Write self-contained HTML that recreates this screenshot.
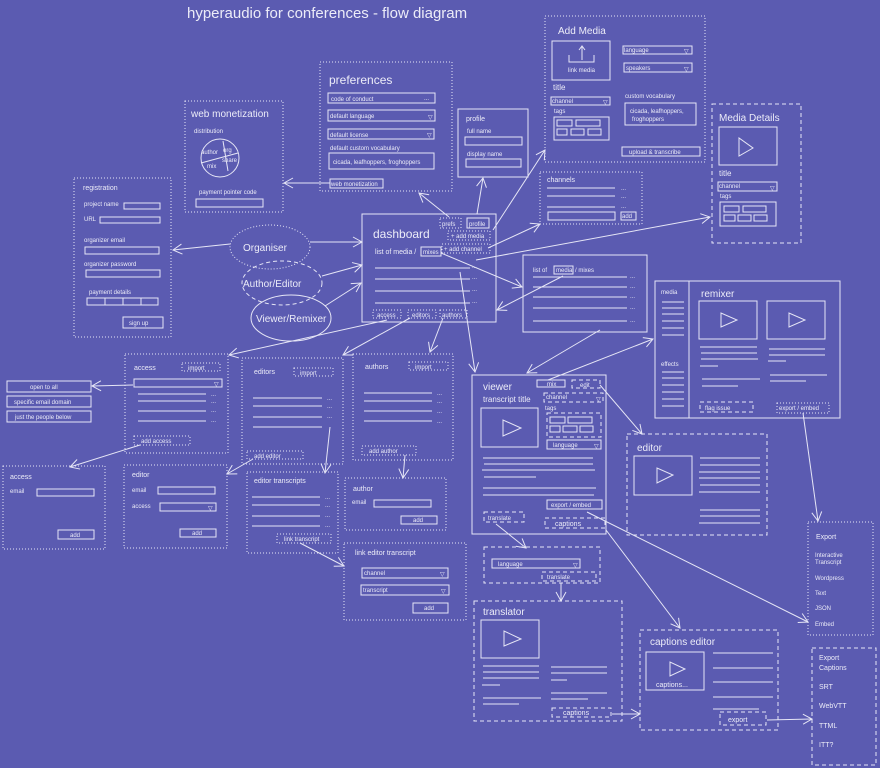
<!DOCTYPE html>
<html><head><meta charset="utf-8"><style>
html,body{margin:0;padding:0;background:#5b5bb1;}
svg{display:block}
text{font-family:"Liberation Sans",sans-serif;fill:#ececf8}
.s{fill:none;stroke:#e6e6f6;stroke-width:1}
.dt{fill:none;stroke:#e6e6f6;stroke-width:1;stroke-dasharray:1 2}
.ds{fill:none;stroke:#e6e6f6;stroke-width:1;stroke-dasharray:4 3}
.a{fill:none;stroke:#e6e6f6;stroke-width:1;marker-end:url(#m)}
.t6{font-size:6px}.t7{font-size:7px}.t8{font-size:8px}.t10{font-size:10px}.t12{font-size:12px}
</style></head><body>
<svg width="880" height="768" viewBox="0 0 880 768" xmlns="http://www.w3.org/2000/svg">
<defs><marker id="m" markerWidth="12" markerHeight="12" refX="10" refY="6" orient="auto" markerUnits="userSpaceOnUse"><path d="M1,1 L10,6 L1,11" fill="none" stroke="#e6e6f6" stroke-width="1"/></marker></defs>
<rect width="880" height="768" fill="#5b5bb1"/>
<text x="187" y="18" font-size="15">hyperaudio for conferences - flow diagram</text>

<!-- preferences -->
<rect class="dt" x="320" y="62" width="132" height="129"/>
<text x="329" y="84" class="t12">preferences</text>
<rect class="s" x="328" y="93" width="107" height="10"/><text x="331" y="101" class="t6">code of conduct</text><text x="424" y="100" class="t6">...</text>
<rect class="s" x="328" y="110" width="107" height="11"/><text x="330" y="118" class="t6">default language</text><text x="428" y="119" class="t6">▽</text>
<rect class="s" x="328" y="129" width="106" height="10"/><text x="330" y="137" class="t6">default license</text><text x="427" y="137" class="t6">▽</text>
<text x="330" y="150" class="t6">default custom vocabulary</text>
<rect class="s" x="329" y="153" width="105" height="16"/><text x="333" y="164" class="t6">cicada, leafhoppers, froghoppers</text>
<rect class="s" x="330" y="179" width="53" height="9"/><text x="331" y="186" class="t6">web monetization</text>

<!-- web monetization -->
<rect class="dt" x="185" y="101" width="98" height="111"/>
<text x="191" y="117" class="t10">web monetization</text>
<text x="194" y="133" class="t6">distribution</text>
<circle class="s" cx="220" cy="158" r="19"/>
<path class="s" d="M223,141 L228,171 M201,163 L238,153"/>
<text x="201" y="154" class="t6">author</text><text x="223" y="152" class="t6">org</text><text x="222" y="162" class="t6">share</text><text x="207" y="168" class="t6">mix</text>
<text x="199" y="194" class="t6">payment pointer code</text>
<rect class="s" x="196" y="199" width="67" height="8"/>

<!-- registration -->
<rect class="dt" x="74" y="178" width="97" height="159"/>
<text x="83" y="190" class="t7">registration</text>
<text x="84" y="206" class="t6">project name</text><rect class="s" x="124" y="203" width="36" height="6"/>
<text x="84" y="221" class="t6">URL</text><rect class="s" x="100" y="217" width="60" height="6"/>
<text x="84" y="242" class="t6">organizer email</text><rect class="s" x="85" y="247" width="74" height="7"/>
<text x="84" y="266" class="t6">organizer password</text><rect class="s" x="86" y="270" width="74" height="7"/>
<text x="89" y="294" class="t6">payment details</text>
<rect class="s" x="87" y="298" width="18" height="7"/><rect class="s" x="105" y="298" width="18" height="7"/><rect class="s" x="123" y="298" width="18" height="7"/><rect class="s" x="141" y="298" width="17" height="7"/>
<rect class="s" x="123" y="317" width="40" height="11"/><text x="129" y="325" class="t6">sign up</text>

<!-- actors -->
<ellipse class="dt" cx="270" cy="247" rx="40" ry="22"/><text x="243" y="251" class="t10">Organiser</text>
<ellipse class="ds" cx="282" cy="283" rx="40" ry="22"/><text x="243" y="287" class="t10">Author/Editor</text>
<ellipse class="s" cx="291" cy="318" rx="40" ry="23"/><text x="256" y="322" class="t10">Viewer/Remixer</text>

<!-- dashboard -->
<rect class="s" x="362" y="214" width="134" height="108"/>
<text x="373" y="238" class="t12">dashboard</text>
<rect class="dt" x="440" y="218" width="21" height="10"/><text x="442" y="226" class="t6">prefs</text>
<rect class="s" x="467" y="218" width="22" height="10"/><text x="469" y="226" class="t6">profile</text>
<rect class="dt" x="448" y="231" width="42" height="9"/><text x="451" y="238" class="t6">+ add media</text>
<rect class="dt" x="442" y="244" width="48" height="9"/><text x="444" y="251" class="t6">+ add channel</text>
<text x="375" y="254" class="t7">list of media /</text><rect class="s" x="421" y="247" width="20" height="9"/><text x="423" y="254" class="t6">mixes</text>
<g class="s"><path d="M375,268H470M375,279H470M375,291H470M375,303H470"/></g>
<text x="472" y="268" class="t6">...</text><text x="472" y="279" class="t6">...</text><text x="472" y="291" class="t6">...</text><text x="472" y="303" class="t6">...</text>
<rect class="dt" x="373" y="310" width="28" height="8"/><text x="377" y="317" class="t6">access</text>
<rect class="dt" x="408" y="310" width="28" height="8"/><text x="412" y="317" class="t6">editors</text>
<rect class="dt" x="440" y="310" width="27" height="8"/><text x="442" y="317" class="t6">authors</text>

<!-- profile -->
<rect class="s" x="458" y="109" width="70" height="68"/>
<text x="466" y="121" class="t7">profile</text>
<text x="467" y="133" class="t6">full name</text><rect class="s" x="465" y="137" width="57" height="8"/>
<text x="467" y="156" class="t6">display name</text><rect class="s" x="466" y="159" width="55" height="8"/>

<!-- add media -->
<rect class="dt" x="545" y="16" width="160" height="146"/>
<text x="558" y="34" class="t10">Add Media</text>
<rect class="s" x="552" y="41" width="58" height="39"/>
<path class="s" d="M569,55V62H594V55M582,60V47M579,50L582,46L585,50"/>
<text x="568" y="72" class="t6">link media</text>
<text x="553" y="90" class="t8">title</text>
<rect class="s" x="551" y="97" width="59" height="8"/><text x="552" y="103" class="t6">channel</text><text x="603" y="104" class="t6">▽</text>
<text x="554" y="113" class="t6">tags</text>
<rect class="s" x="554" y="117" width="55" height="23"/>
<rect class="s" x="557" y="120" width="15" height="6"/><rect class="s" x="576" y="120" width="24" height="6"/>
<rect class="s" x="557" y="129" width="10" height="6"/><rect class="s" x="571" y="129" width="13" height="6"/><rect class="s" x="588" y="129" width="13" height="6"/>
<rect class="s" x="623" y="46" width="69" height="8"/><text x="624" y="52" class="t6">language</text><text x="684" y="53" class="t6">▽</text>
<rect class="s" x="624" y="63" width="68" height="9"/><text x="626" y="70" class="t6">speakers</text><text x="684" y="71" class="t6">▽</text>
<text x="625" y="98" class="t6">custom vocabulary</text>
<rect class="s" x="625" y="103" width="71" height="22"/><text x="630" y="113" class="t6">cicada, leafhoppers,</text><text x="632" y="121" class="t6">froghoppers</text>
<rect class="s" x="622" y="147" width="78" height="9"/><text x="629" y="154" class="t6">upload &amp; transcribe</text>

<!-- channels -->
<rect class="dt" x="540" y="172" width="102" height="52"/>
<text x="547" y="182" class="t7">channels</text>
<path class="s" d="M547,188H615M547,196H615M547,207H615"/>
<text x="621" y="190" class="t6">...</text><text x="621" y="198" class="t6">...</text><text x="621" y="208" class="t6">...</text>
<rect class="s" x="548" y="212" width="67" height="8"/><rect class="s" x="621" y="212" width="15" height="8"/><text x="622" y="218" class="t6">add</text>

<!-- media details -->
<rect class="ds" x="712" y="104" width="89" height="139"/>
<text x="719" y="121" class="t10">Media Details</text>
<rect class="s" x="719" y="127" width="58" height="38"/><path class="s" d="M739,138V156L753,148Z"/>
<text x="719" y="176" class="t8">title</text>
<rect class="s" x="718" y="182" width="59" height="9"/><text x="719" y="188" class="t6">channel</text><text x="770" y="190" class="t6">▽</text>
<text x="720" y="198" class="t6">tags</text>
<rect class="s" x="720" y="202" width="56" height="24"/>
<rect class="s" x="724" y="206" width="15" height="6"/><rect class="s" x="743" y="206" width="23" height="6"/>
<rect class="s" x="724" y="215" width="11" height="6"/><rect class="s" x="738" y="215" width="13" height="6"/><rect class="s" x="754" y="215" width="13" height="6"/>

<!-- list of media -->
<rect class="s" x="523" y="255" width="124" height="77"/>
<text x="533" y="272" class="t6">list of</text><rect class="s" x="554" y="266" width="19" height="8"/><text x="556" y="272" class="t6">media</text><text x="575" y="272" class="t6">/ mixes</text>
<path class="s" d="M533,277H627M533,287H627M533,297H627M533,308H627M533,321H627"/>
<text x="630" y="278" class="t6">...</text><text x="630" y="288" class="t6">...</text><text x="630" y="298" class="t6">...</text><text x="630" y="309" class="t6">...</text><text x="630" y="322" class="t6">...</text>

<!-- remixer -->
<rect class="s" x="655" y="281" width="185" height="137"/>
<path class="s" d="M689,281V418"/>
<text x="661" y="294" class="t6">media</text>
<path class="s" d="M662,302H684M662,308H684M662,314H684M662,321H684M662,328H684M662,335H684"/>
<text x="661" y="366" class="t6">effects</text>
<path class="s" d="M662,372H684M662,378H684M662,385H684M662,392H684M662,399H684M662,406H684"/>
<text x="701" y="297" class="t10">remixer</text>
<rect class="s" x="699" y="301" width="58" height="38"/><path class="s" d="M721,313V327L737,320Z"/>
<rect class="s" x="767" y="301" width="58" height="38"/><path class="s" d="M789,313V327L805,320Z"/>
<path class="s" d="M700,347H757M701,353H757M701,359H758M700,366H718M702,379H760M702,386H738M769,349H825M769,355H825M768,361H786M770,375H827M770,381H806"/>
<rect class="ds" x="700" y="402" width="53" height="10"/><text x="705" y="410" class="t6">flag issue</text>
<rect class="dt" x="777" y="403" width="52" height="10"/><text x="779" y="410" class="t6">export / embed</text>

<!-- viewer -->
<rect class="s" x="472" y="375" width="134" height="159"/>
<text x="483" y="390" class="t10">viewer</text>
<rect class="s" x="537" y="380" width="28" height="7"/><text x="547" y="386" class="t6">mix</text>
<rect class="ds" x="572" y="380" width="28" height="8"/><text x="580" y="387" class="t6">edit</text>
<text x="483" y="402" class="t8">transcript title</text>
<rect class="ds" x="544" y="393" width="59" height="9"/><text x="546" y="399" class="t6">channel</text><text x="596" y="401" class="t6">▽</text>
<text x="545" y="410" class="t6">tags</text>
<rect class="ds" x="547" y="413" width="54" height="24"/>
<rect class="s" x="550" y="417" width="15" height="6"/><rect class="s" x="568" y="417" width="24" height="6"/>
<rect class="s" x="550" y="426" width="10" height="6"/><rect class="s" x="563" y="426" width="14" height="6"/><rect class="s" x="580" y="426" width="13" height="6"/>
<rect class="s" x="547" y="440" width="54" height="9"/><text x="553" y="447" class="t6">language</text><text x="594" y="448" class="t6">▽</text>
<rect class="s" x="481" y="408" width="57" height="39"/><path class="s" d="M503,420V436L521,428Z"/>
<path class="s" d="M483,458H593M484,464H593M482,470H595M484,477H536M483,488H596M483,495H594"/>
<rect class="s" x="547" y="500" width="55" height="9"/><text x="551" y="507" class="t6">export / embed</text>
<rect class="ds" x="484" y="512" width="40" height="10"/><text x="488" y="520" class="t6">translate</text>
<rect class="ds" x="545" y="518" width="60" height="10"/><text x="555" y="526" class="t7">captions</text>

<!-- editor -->
<rect class="ds" x="627" y="434" width="140" height="101"/>
<text x="637" y="451" class="t10">editor</text>
<rect class="s" x="634" y="456" width="58" height="39"/><path class="s" d="M657,468V483L673,475Z"/>
<path class="s" d="M700,458H760M700,465H760M699,472H760M699,478H760M700,485H760M699,492H760M700,510H760M700,516H760M699,523H760"/>

<!-- export -->
<rect class="dt" x="808" y="522" width="65" height="113"/>
<text x="816" y="539" class="t7">Export</text>
<text x="815" y="557" class="t6">Interactive</text><text x="815" y="564" class="t6">Transcript</text>
<text x="815" y="580" class="t6">Wordpress</text>
<text x="815" y="595" class="t6">Text</text>
<text x="815" y="610" class="t6">JSON</text>
<text x="815" y="626" class="t6">Embed</text>
<rect class="ds" x="812" y="648" width="64" height="117"/>
<text x="819" y="660" class="t7">Export</text><text x="819" y="670" class="t7">Captions</text>
<text x="819" y="689" class="t7">SRT</text>
<text x="819" y="708" class="t7">WebVTT</text>
<text x="819" y="728" class="t7">TTML</text>
<text x="819" y="747" class="t7">ITT?</text>

<!-- translate -->
<rect class="ds" x="484" y="547" width="116" height="36"/>
<rect class="s" x="492" y="559" width="88" height="9"/><text x="498" y="566" class="t6">language</text><text x="573" y="567" class="t6">▽</text>
<rect class="ds" x="542" y="572" width="54" height="9"/><text x="547" y="579" class="t6">translate</text>
<rect class="ds" x="474" y="601" width="148" height="120"/>
<text x="483" y="615" class="t10">translator</text>
<rect class="s" x="481" y="620" width="58" height="38"/><path class="s" d="M504,631V646L521,639Z"/>
<path class="s" d="M483,666H539M483,672H539M483,678H539M482,685H500M483,698H541M483,704H519M551,667H607M551,673H607M551,680H567M551,693H607M551,699H588"/>
<rect class="ds" x="552" y="708" width="59" height="9"/><text x="563" y="715" class="t7">captions</text>
<rect class="ds" x="640" y="630" width="138" height="100"/>
<text x="650" y="645" class="t10">captions editor</text>
<rect class="s" x="646" y="652" width="58" height="38"/><path class="s" d="M670,662V676L685,669Z"/>
<text x="656" y="687" class="t7">captions...</text>
<path class="s" d="M713,653H773M713,668H773M713,682H773M713,697H773M713,709H759"/>
<rect class="ds" x="720" y="712" width="46" height="13"/><text x="728" y="722" class="t7">export</text>

<!-- access -->
<rect class="dt" x="125" y="354" width="103" height="99"/>
<text x="134" y="370" class="t7">access</text>
<rect class="dt" x="182" y="363" width="38" height="8"/><text x="188" y="370" class="t6">import</text>
<rect class="s" x="134" y="379" width="88" height="8"/><text x="214" y="386" class="t6">▽</text>
<path class="s" d="M138,394H206M138,401H206M138,411H206M138,421H206"/>
<text x="211" y="396" class="t6">...</text><text x="211" y="403" class="t6">...</text><text x="211" y="412" class="t6">...</text><text x="211" y="422" class="t6">...</text>
<rect class="dt" x="134" y="436" width="56" height="9"/><text x="141" y="443" class="t6">add access</text>
<rect class="s" x="7" y="381" width="84" height="11"/><text x="30" y="389" class="t6">open to all</text>
<rect class="s" x="7" y="396" width="84" height="11"/><text x="14" y="404" class="t6">specific email domain</text>
<rect class="s" x="7" y="411" width="84" height="11"/><text x="15" y="419" class="t6">just the people below</text>

<rect class="dt" x="242" y="358" width="101" height="106"/>
<text x="254" y="374" class="t7">editors</text>
<rect class="dt" x="294" y="368" width="39" height="8"/><text x="300" y="375" class="t6">import</text>
<path class="s" d="M253,398H322M253,406H322M253,417H322M253,427H322"/>
<text x="327" y="400" class="t6">...</text><text x="327" y="408" class="t6">...</text><text x="327" y="418" class="t6">...</text>
<rect class="dt" x="247" y="451" width="56" height="8"/><text x="254" y="458" class="t6">add editor</text>

<rect class="dt" x="353" y="354" width="100" height="106"/>
<text x="365" y="369" class="t7">authors</text>
<rect class="dt" x="409" y="362" width="39" height="8"/><text x="415" y="369" class="t6">import</text>
<path class="s" d="M364,393H432M364,401H432M364,411H432M364,421H432"/>
<text x="437" y="395" class="t6">...</text><text x="437" y="403" class="t6">...</text><text x="437" y="413" class="t6">...</text><text x="437" y="423" class="t6">...</text>
<rect class="dt" x="362" y="446" width="54" height="9"/><text x="369" y="453" class="t6">add author</text>

<rect class="dt" x="3" y="466" width="102" height="83"/>
<text x="10" y="479" class="t7">access</text>
<text x="10" y="493" class="t6">email</text><rect class="s" x="37" y="489" width="57" height="7"/>
<rect class="s" x="58" y="530" width="36" height="9"/><text x="70" y="537" class="t6">add</text>

<rect class="dt" x="124" y="465" width="103" height="83"/>
<text x="132" y="477" class="t7">editor</text>
<text x="132" y="492" class="t6">email</text><rect class="s" x="158" y="487" width="57" height="7"/>
<text x="132" y="508" class="t6">access</text><rect class="s" x="160" y="503" width="56" height="8"/><text x="208" y="510" class="t6">▽</text>
<rect class="s" x="180" y="529" width="36" height="8"/><text x="192" y="535" class="t6">add</text>

<rect class="dt" x="247" y="472" width="91" height="81"/>
<text x="254" y="483" class="t7">editor transcripts</text>
<path class="s" d="M252,497H320M252,505H320M252,516H320M252,526H320"/>
<text x="325" y="499" class="t6">...</text><text x="325" y="507" class="t6">...</text><text x="325" y="517" class="t6">...</text><text x="325" y="527" class="t6">...</text>
<rect class="dt" x="277" y="534" width="54" height="9"/><text x="284" y="541" class="t6">link transcript</text>

<rect class="dt" x="345" y="478" width="101" height="52"/>
<text x="353" y="491" class="t7">author</text>
<text x="352" y="504" class="t6">email</text><rect class="s" x="374" y="500" width="57" height="7"/>
<rect class="s" x="401" y="516" width="36" height="8"/><text x="413" y="522" class="t6">add</text>

<rect class="dt" x="344" y="543" width="122" height="77"/>
<text x="355" y="555" class="t7">link editor transcript</text>
<rect class="s" x="362" y="568" width="86" height="10"/><text x="364" y="575" class="t6">channel</text><text x="440" y="576" class="t6">▽</text>
<rect class="s" x="361" y="585" width="88" height="10"/><text x="363" y="592" class="t6">transcript</text><text x="441" y="593" class="t6">▽</text>
<rect class="s" x="413" y="603" width="35" height="10"/><text x="424" y="610" class="t6">add</text>

<!-- arrows -->
<path class="a" d="M330,183L284,183"/>
<path class="a" d="M449,217L419,193"/>
<path class="a" d="M230,244L173,250"/>
<path class="a" d="M310,242L362,242"/>
<path class="a" d="M322,276L362,265"/>
<path class="a" d="M325,306L361,283"/>
<path class="a" d="M477,214L483,178"/>
<path class="a" d="M493,230L545,150"/>
<path class="a" d="M488,248L540,224"/>
<path class="a" d="M476,260L710,217"/>
<path class="a" d="M441,253L522,287"/>
<path class="a" d="M563,276L497,310"/>
<path class="a" d="M460,272L475,372"/>
<path class="a" d="M600,330L527,373"/>
<path class="a" d="M548,380L653,339"/>
<path class="a" d="M600,385L642,434"/>
<path class="a" d="M803,413L818,521"/>
<path class="a" d="M587,512L808,622"/>
<path class="a" d="M606,530L680,628"/>
<path class="a" d="M496,524L526,548"/>
<path class="a" d="M561,583L561,601"/>
<path class="a" d="M612,714L640,714"/>
<path class="a" d="M767,720L812,719"/>
<path class="a" d="M387,320L229,355"/>
<path class="a" d="M410,318L343,355"/>
<path class="a" d="M443,318L430,352"/>
<path class="a" d="M133,385L92,386"/>
<path class="a" d="M140,445L70,467"/>
<path class="a" d="M253,459L227,474"/>
<path class="a" d="M330,427L325,473"/>
<path class="a" d="M405,455L403,478"/>
<path class="a" d="M300,543L344,566"/>
</svg>
</body></html>
